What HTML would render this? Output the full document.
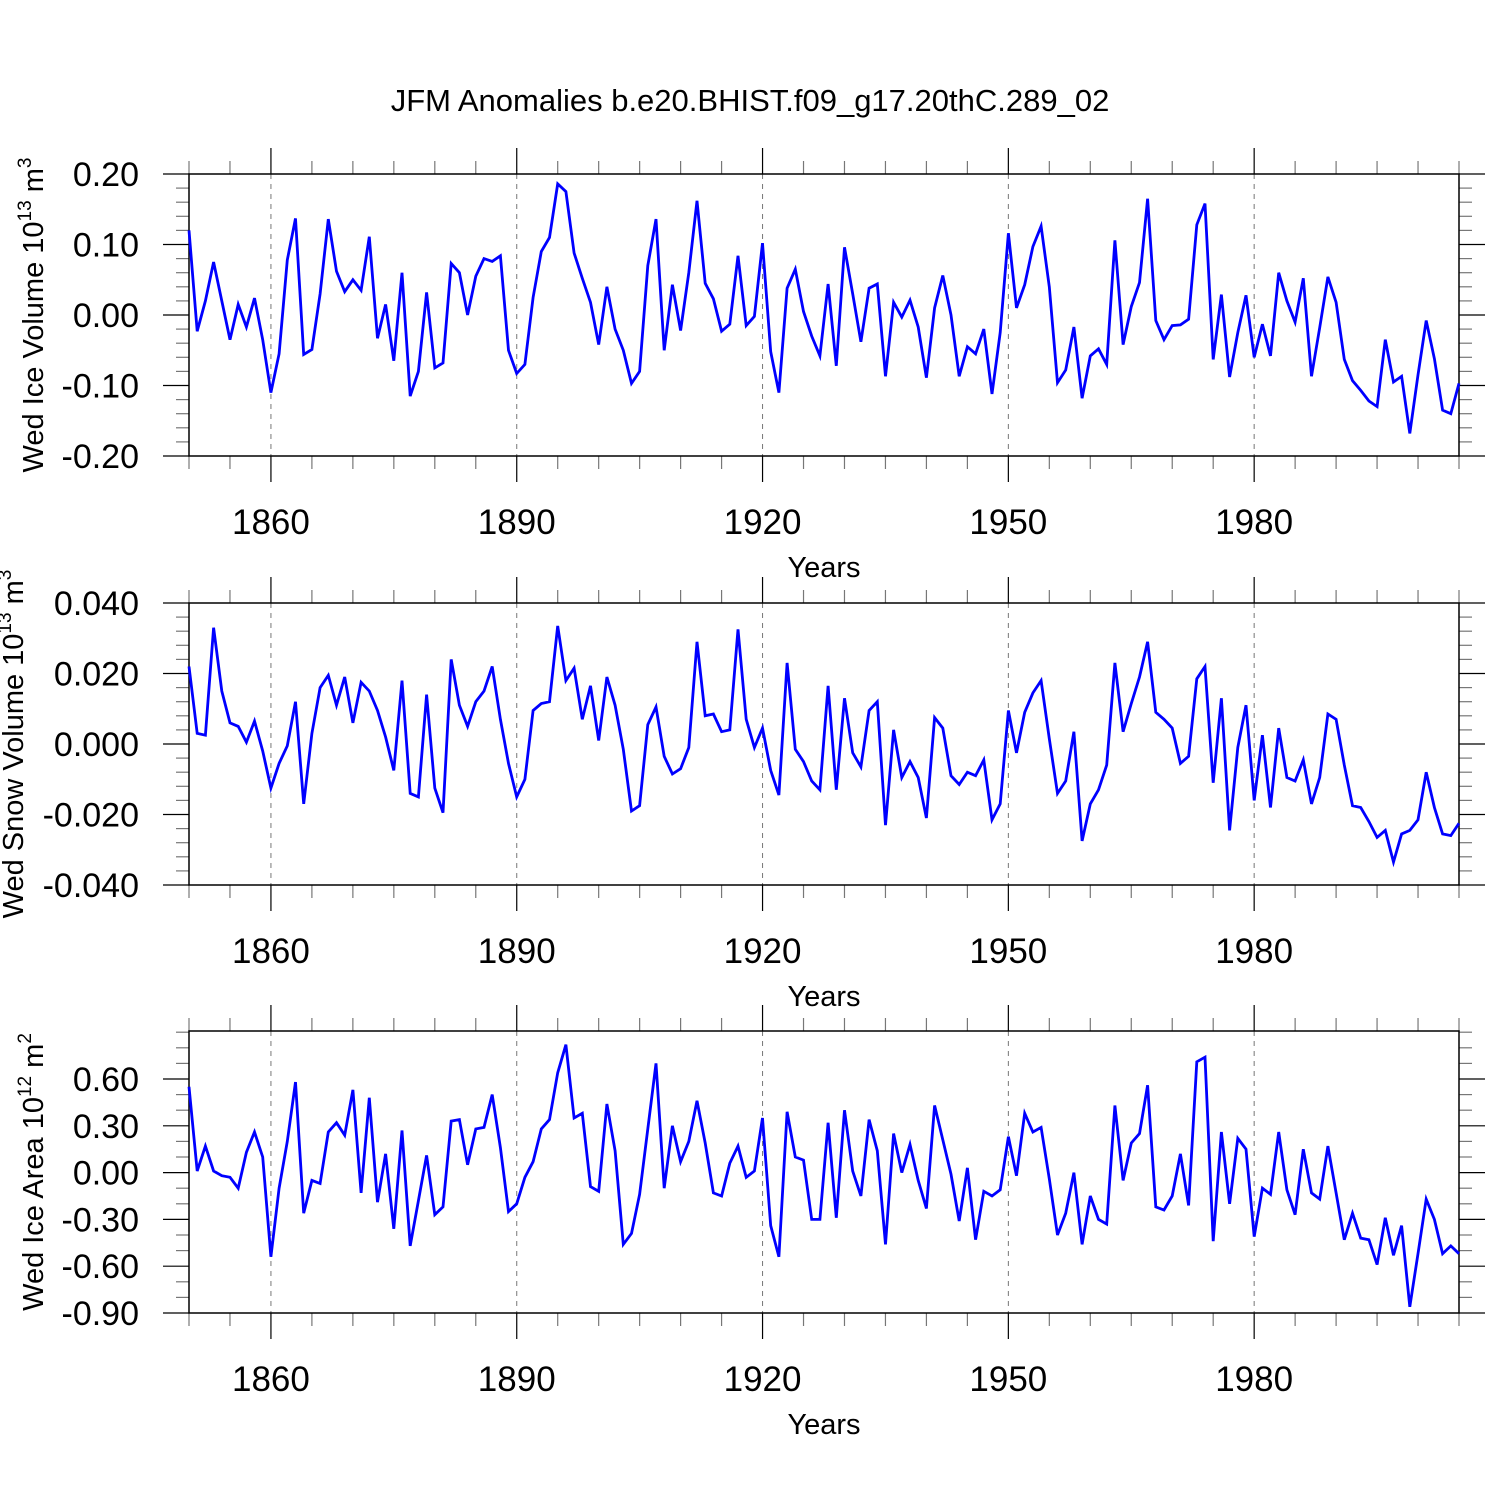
<!DOCTYPE html>
<html><head><meta charset="utf-8"><style>
html,body{margin:0;padding:0;background:#fff;}
svg text{font-family:"Liberation Sans",sans-serif;fill:#000;}
</style></head><body>
<svg id="chart" width="1500" height="1500" xmlns="http://www.w3.org/2000/svg">
<rect width="1500" height="1500" fill="#fff"/>
<text x="750" y="111" font-size="31" text-anchor="middle">JFM Anomalies b.e20.BHIST.f09_g17.20thC.289_02</text>
</svg>
<script>
const startYear = 1850;
const iceVolume = [0.12,-0.023,0.02,0.075,0.02,-0.035,0.015,-0.017,0.024,-0.035,-0.11,-0.055,0.078,0.137,-0.056,-0.049,0.03,0.136,0.062,0.033,0.05,0.035,0.111,-0.033,0.015,-0.065,0.06,-0.115,-0.08,0.032,-0.075,-0.068,0.073,0.06,0.0,0.055,0.08,0.076,0.084,-0.05,-0.083,-0.07,0.025,0.09,0.11,0.186,0.175,0.088,0.052,0.018,-0.042,0.04,-0.02,-0.05,-0.097,-0.08,0.07,0.136,-0.05,0.043,-0.022,0.06,0.162,0.045,0.023,-0.023,-0.013,0.084,-0.015,-0.002,0.102,-0.052,-0.11,0.038,0.065,0.005,-0.03,-0.058,0.044,-0.072,0.096,0.03,-0.038,0.038,0.044,-0.087,0.018,-0.003,0.021,-0.017,-0.089,0.01,0.056,0.0,-0.087,-0.045,-0.055,-0.02,-0.112,-0.025,0.116,0.01,0.043,0.097,0.126,0.04,-0.096,-0.078,-0.017,-0.118,-0.058,-0.048,-0.07,0.106,-0.042,0.012,0.046,0.165,-0.008,-0.035,-0.015,-0.014,-0.006,0.128,0.158,-0.063,0.029,-0.088,-0.025,0.028,-0.06,-0.013,-0.058,0.06,0.02,-0.01,0.052,-0.087,-0.018,0.054,0.018,-0.063,-0.093,-0.107,-0.122,-0.13,-0.035,-0.095,-0.087,-0.168,-0.085,-0.008,-0.062,-0.135,-0.14,-0.097];
const snowVolume = [0.022,0.003,0.0025,0.033,0.015,0.006,0.005,0.0005,0.0065,-0.002,-0.0125,-0.0055,-0.0005,0.012,-0.017,0.003,0.016,0.0195,0.011,0.019,0.006,0.0175,0.015,0.0095,0.002,-0.0075,0.018,-0.014,-0.015,0.014,-0.0125,-0.0195,0.024,0.011,0.005,0.012,0.015,0.022,0.007,-0.0055,-0.015,-0.010,0.0095,0.0115,0.012,0.0335,0.018,0.0215,0.007,0.0165,0.001,0.019,0.011,-0.0015,-0.019,-0.0175,0.0055,0.0105,-0.0035,-0.0085,-0.007,-0.001,0.029,0.008,0.0085,0.0035,0.004,0.0325,0.007,-0.001,0.0045,-0.0075,-0.0145,0.023,-0.0015,-0.005,-0.0105,-0.013,0.0165,-0.013,0.013,-0.0025,-0.0065,0.0095,0.012,-0.023,0.004,-0.0095,-0.005,-0.0095,-0.021,0.0075,0.0045,-0.009,-0.0115,-0.008,-0.009,-0.0045,-0.0215,-0.017,0.0095,-0.0025,0.009,0.0145,0.018,0.0015,-0.014,-0.0105,0.0035,-0.0275,-0.017,-0.013,-0.006,0.023,0.0035,0.0115,0.019,0.029,0.009,0.007,0.0045,-0.0055,-0.0035,0.0185,0.022,-0.011,0.013,-0.0245,-0.001,0.011,-0.016,0.0025,-0.018,0.0045,-0.0095,-0.0105,-0.0045,-0.017,-0.0095,0.0085,0.007,-0.006,-0.0175,-0.018,-0.022,-0.0265,-0.0245,-0.0335,-0.0255,-0.0245,-0.0215,-0.008,-0.018,-0.0255,-0.026,-0.0225];
const iceArea = [0.55,0.01,0.17,0.01,-0.02,-0.03,-0.1,0.13,0.26,0.1,-0.54,-0.1,0.2,0.58,-0.26,-0.05,-0.07,0.26,0.32,0.24,0.53,-0.13,0.48,-0.19,0.12,-0.36,0.27,-0.47,-0.18,0.11,-0.27,-0.22,0.33,0.34,0.05,0.28,0.29,0.5,0.16,-0.25,-0.2,-0.03,0.07,0.28,0.34,0.64,0.82,0.35,0.38,-0.09,-0.12,0.44,0.14,-0.46,-0.39,-0.14,0.28,0.7,-0.1,0.3,0.07,0.2,0.46,0.19,-0.13,-0.15,0.06,0.17,-0.03,0.01,0.35,-0.34,-0.54,0.39,0.1,0.08,-0.3,-0.3,0.32,-0.29,0.4,0.01,-0.15,0.34,0.14,-0.46,0.25,0.0,0.18,-0.05,-0.23,0.43,0.21,-0.01,-0.31,0.03,-0.43,-0.12,-0.15,-0.11,0.23,-0.02,0.38,0.26,0.29,-0.04,-0.4,-0.26,0.0,-0.46,-0.15,-0.3,-0.33,0.43,-0.05,0.19,0.25,0.56,-0.22,-0.24,-0.15,0.12,-0.21,0.71,0.74,-0.44,0.26,-0.2,0.22,0.15,-0.41,-0.1,-0.14,0.26,-0.11,-0.27,0.15,-0.13,-0.17,0.17,-0.13,-0.43,-0.26,-0.42,-0.43,-0.59,-0.29,-0.53,-0.34,-0.86,-0.52,-0.17,-0.3,-0.52,-0.47,-0.52];
const xTickYears = [1860,1890,1920,1950,1980];
const iceVolTicks = [0.2,0.1,0,-0.1,-0.2];
const iceVolLabels = ["0.20","0.10","0.00","-0.10","-0.20"];
const snowTicks = [0.04,0.02,0,-0.02,-0.04];
const snowLabels = ["0.040","0.020","0.000","-0.020","-0.040"];
const areaTicks = [0.6,0.3,0,-0.3,-0.6,-0.9];
const areaLabels = ["0.60","0.30","0.00","-0.30","-0.60","-0.90"];

const NS="http://www.w3.org/2000/svg";
const svg=document.getElementById('chart');
const X0=189, X1=1459, Y0=1850, Y1=2005;
function xs(y){return X0+(y-Y0)*(X1-X0)/(Y1-Y0);}
function mk(tag,attrs,parent){const e=document.createElementNS(NS,tag);for(const k in attrs)e.setAttribute(k,attrs[k]);(parent||svg).appendChild(e);return e;}

function panel(name,top,bottom,ymin,ymax,data,ticks,labels,minorStep,titleMain,exp,unitExp,titleX){
  const g=mk('g',{});
  
  
  const ys=v=>bottom-(v-ymin)*(bottom-top)/(ymax-ymin);
  xTickYears.forEach(yr=>{
    const l=mk('line',{x1:xs(yr),x2:xs(yr),y1:top,y2:bottom,stroke:'#777','stroke-width':1,'stroke-dasharray':'5,5'},g);
    
    
  });
  for(let yr=1850;yr<=2005;yr+=5){
    const major=xTickYears.includes(yr);
    const len=major?26:13;
    mk('line',{x1:xs(yr),x2:xs(yr),y1:top-len,y2:top,stroke:major?'#000':'#777','stroke-width':1.2},g);
    mk('line',{x1:xs(yr),x2:xs(yr),y1:bottom,y2:bottom+len,stroke:major?'#000':'#777','stroke-width':1.2},g);
  }
  xTickYears.forEach(yr=>{
    const t=mk('text',{x:xs(yr),y:bottom+78,'font-size':35,'text-anchor':'middle'},g);
    t.textContent=yr;
    
    
  });
  const xt=mk('text',{x:824,y:bottom+121,'font-size':29,'text-anchor':'middle'},g);
  xt.textContent='Years';
  
  
  const n0=Math.ceil(ymin/minorStep-1e-6), n1=Math.floor(ymax/minorStep+1e-6);
  for(let i=n0;i<=n1;i++){
    const v=i*minorStep; const y=ys(v);
    const major=ticks.some(t=>Math.abs(t-v)<1e-6);
    const len=major?26:13;
    mk('line',{x1:X0-len,x2:X0,y1:y,y2:y,stroke:major?'#000':'#777','stroke-width':1.2},g);
    mk('line',{x1:X1,x2:X1+len,y1:y,y2:y,stroke:major?'#000':'#777','stroke-width':1.2},g);
  }
  ticks.forEach((v,i)=>{
    const t=mk('text',{x:139,y:ys(v)+12,'font-size':34,'text-anchor':'end'},g);
    t.textContent=labels[i];
    
    
  });
  const fr=mk('rect',{x:X0,y:top,width:X1-X0,height:bottom-top,fill:'none',stroke:'#000','stroke-width':1.5},g);
  
  
  const pts=data.map((v,i)=>xs(startYear+i).toFixed(1)+','+ys(v).toFixed(1)).join(' ');
  const pl=mk('polyline',{points:pts,fill:'none',stroke:'#0000ff','stroke-width':2.8,'stroke-linejoin':'miter'},g);
  
  
  const cy=(top+bottom)/2;
  const yt=mk('text',{x:0,y:0,'font-size':29,'text-anchor':'middle',transform:`translate(${titleX},${cy}) rotate(-90)`},g);
  
  
  const t1=mk('tspan',{},yt); t1.textContent=titleMain+' 10';
  const t2=mk('tspan',{dy:-12,'font-size':19},yt); t2.textContent=exp;
  const t3=mk('tspan',{dy:12},yt); t3.textContent=' m';
  const t4=mk('tspan',{dy:-12,'font-size':19},yt); t4.textContent=unitExp;
}
panel('ice-volume',174,456,-0.2,0.2,iceVolume,iceVolTicks,iceVolLabels,0.02,'Wed Ice Volume','13','3',43);
panel('snow-volume',603,885,-0.04,0.04,snowVolume,snowTicks,snowLabels,0.004,'Wed Snow Volume','13','3',23);
panel('ice-area',1031,1313,-0.9,0.9077,iceArea,areaTicks,areaLabels,0.1,'Wed Ice Area','12','2',43);
</script>
</body></html>
